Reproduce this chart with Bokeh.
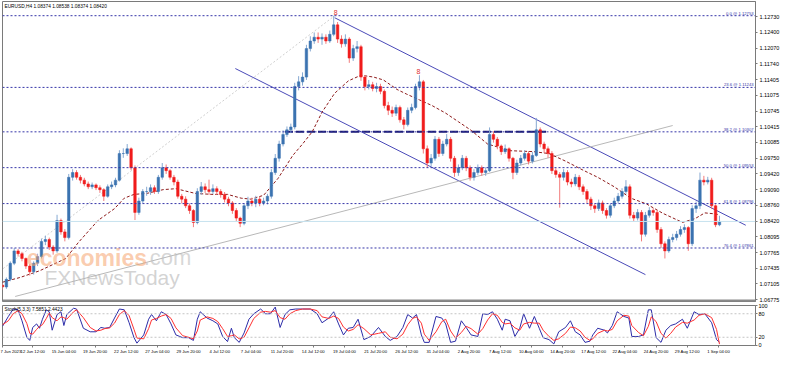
import numpy as np
from bokeh.plotting import figure
from bokeh.layouts import column
from bokeh.models import Range1d, FixedTicker, Span, Label, NumeralTickFormatter
from bokeh.core.properties import value
from bokeh.embed import file_html
from bokeh.resources import INLINE

# ---------------- data (EURUSD H4) ----------------
first_open = 1.0708
close_p = [1.0704,1.0720,1.0754,1.0780,1.0774,1.0764,1.0748,1.0736,1.0754,1.0768,
1.0800,1.0804,1.0788,1.0780,1.0844,1.0820,1.0808,1.0935,1.0945,1.0935,
1.0929,1.0921,1.0915,1.0919,1.0913,1.0909,1.0895,1.0915,1.0919,1.0929,
1.0985,1.0985,1.0995,1.0955,1.0861,1.0885,1.0905,1.0905,1.0913,1.0905,
1.0935,1.0955,1.0949,1.0935,1.0925,1.0895,1.0889,1.0875,1.0865,1.0840,
1.0905,1.0915,1.0909,1.0905,1.0911,1.0905,1.0899,1.0889,1.0881,1.0865,
1.0849,1.0838,1.0875,1.0885,1.0881,1.0889,1.0881,1.0885,1.0895,1.0945,
1.0975,1.1005,1.1025,1.1035,1.1041,1.1126,1.1136,1.1146,1.1206,1.1222,
1.1230,1.1226,1.1230,1.1222,1.1236,1.1256,1.1226,1.1216,1.1226,1.1186,
1.1206,1.1210,1.1146,1.1126,1.1130,1.1122,1.1126,1.1116,1.1086,1.1076,
1.1070,1.1082,1.1056,1.1046,1.1076,1.1082,1.1126,1.1136,1.0995,1.0965,
1.0975,1.1015,1.0985,1.1005,1.1015,1.0975,1.0945,1.0955,1.0975,1.0955,
1.0935,1.0945,1.0955,1.0945,1.0949,1.1025,1.1015,1.1001,1.0989,1.0995,
1.0975,1.0945,1.0965,1.0975,1.0985,1.0969,1.0981,1.1035,1.1005,1.0995,
1.0985,1.0949,1.0941,1.0935,1.0945,1.0925,1.0921,1.0935,1.0915,1.0905,
1.0889,1.0875,1.0869,1.0881,1.0865,1.0855,1.0875,1.0885,1.0895,1.0905,
1.0915,1.0855,1.0849,1.0861,1.0815,1.0855,1.0865,1.0861,1.0825,1.0795,
1.0780,1.0804,1.0808,1.0815,1.0825,1.0829,1.0795,1.0869,1.0875,1.0929,
1.0925,1.0929,1.0875,1.0835,1.0842]
high_p = [1.0712,1.0724,1.0758,1.0786,1.0784,1.0778,1.0766,1.0752,1.0758,1.0774,
1.0806,1.0812,1.0808,1.0792,1.0856,1.0848,1.0826,1.0942,1.0952,1.0950,
1.0940,1.0934,1.0926,1.0924,1.0922,1.0918,1.0912,1.0920,1.0926,1.0934,
1.0992,1.0996,1.1005,1.0998,1.0960,1.0892,1.0910,1.0915,1.0920,1.0918,
1.0940,1.0965,1.0962,1.0952,1.0940,1.0930,1.0900,1.0895,1.0880,1.0868,
1.0912,1.0925,1.0922,1.0930,1.0920,1.0916,1.0910,1.0904,1.0894,1.0885,
1.0870,1.0852,1.0880,1.0894,1.0892,1.0896,1.0894,1.0892,1.0900,1.0952,
1.0984,1.1012,1.1034,1.1042,1.1048,1.1134,1.1148,1.1156,1.1214,1.1232,
1.1240,1.1240,1.1238,1.1236,1.1244,1.1275,1.1262,1.1234,1.1236,1.1230,
1.1214,1.1222,1.1214,1.1150,1.1140,1.1136,1.1134,1.1132,1.1120,1.1094,
1.1084,1.1088,1.1086,1.1062,1.1082,1.1090,1.1132,1.1150,1.1140,1.1002,
1.0984,1.1022,1.1020,1.1012,1.1026,1.1020,1.0980,1.0962,1.0982,1.0980,
1.0960,1.0952,1.0962,1.0960,1.0956,1.1040,1.1032,1.1020,1.1004,1.1004,
1.0998,1.0978,1.0972,1.0982,1.0992,1.0990,1.0988,1.1060,1.1040,1.1010,
1.1000,1.0990,1.0954,1.0946,1.0952,1.0950,1.0932,1.0942,1.0940,1.0920,
1.0910,1.0894,1.0880,1.0888,1.0886,1.0870,1.0880,1.0892,1.0902,1.0912,
1.0929,1.0920,1.0862,1.0868,1.0866,1.0862,1.0872,1.0870,1.0866,1.0830,
1.0800,1.0810,1.0816,1.0822,1.0832,1.0836,1.0832,1.0876,1.0884,1.0945,
1.0938,1.0936,1.0934,1.0878,1.0854]
low_p = [1.0698,1.0700,1.0716,1.0750,1.0768,1.0758,1.0742,1.0728,1.0730,1.0748,
1.0764,1.0792,1.0782,1.0772,1.0776,1.0814,1.0800,1.0804,1.0928,1.0930,
1.0922,1.0916,1.0910,1.0910,1.0908,1.0902,1.0885,1.0892,1.0910,1.0914,
1.0926,1.0976,1.0980,1.0950,1.0845,1.0856,1.0880,1.0896,1.0898,1.0900,
1.0900,1.0930,1.0942,1.0930,1.0918,1.0890,1.0880,1.0870,1.0858,1.0830,
1.0836,1.0898,1.0902,1.0898,1.0900,1.0898,1.0892,1.0882,1.0874,1.0858,
1.0842,1.0830,1.0834,1.0868,1.0874,1.0872,1.0874,1.0876,1.0878,1.0890,
1.0940,1.0968,1.1000,1.1020,1.1028,1.1036,1.1118,1.1128,1.1140,1.1200,
1.1216,1.1218,1.1214,1.1216,1.1218,1.1232,1.1218,1.1208,1.1210,1.1176,
1.1180,1.1198,1.1138,1.1118,1.1120,1.1116,1.1114,1.1110,1.1080,1.1066,
1.1062,1.1064,1.1050,1.1036,1.1042,1.1070,1.1078,1.1118,1.0985,1.0955,
1.0958,1.0970,1.0978,1.0980,1.1000,1.0968,1.0936,1.0938,1.0950,1.0948,
1.0928,1.0928,1.0940,1.0938,1.0938,1.0946,1.1008,1.0994,1.0982,1.0984,
1.0968,1.0931,1.0940,1.0960,1.0970,1.0962,1.0964,1.0978,1.0998,1.0986,
1.0976,1.0942,1.0934,1.0871,1.0928,1.0918,1.0914,1.0916,1.0908,1.0898,
1.0880,1.0866,1.0860,1.0864,1.0858,1.0848,1.0850,1.0870,1.0880,1.0890,
1.0900,1.0848,1.0842,1.0844,1.0800,1.0810,1.0850,1.0854,1.0818,1.0786,
1.0764,1.0776,1.0798,1.0802,1.0810,1.0818,1.0780,1.0790,1.0860,1.0868,
1.0918,1.0920,1.0868,1.0830,1.0832]

# moving average (bar index, price)
ma_bar = [0,9,19,32.5,39,49,57.5,62.5,67.5,74,82.5,89,99,107.5,115.5,122.5,127.5,134,141.5,149,
          154,159,164,170.5,177.5,184,190.5,195.5,202.5,207.5,214,220.5,227.5,234,240.5,249,260.5,
          272.5,280.5,289,297.5,305.5,314,322.5,330.5,339,349,355.5,360.5,365.5,368]
ma_price = [1.0714,1.0724,1.0738,1.0764,1.0798,1.0844,1.0869,1.0891,1.0899,1.0901,1.0909,1.0911,
            1.0901,1.0899,1.0899,1.0891,1.0889,1.0897,1.0933,1.0981,1.1005,1.1031,1.1072,1.1112,
            1.1138,1.1150,1.1146,1.1140,1.1120,1.1110,1.1098,1.1086,1.1070,1.1052,1.1034,1.1005,
            1.0991,1.0989,1.0985,1.0969,1.0951,1.0935,1.0915,1.0891,1.0879,1.0859,1.0840,1.0848,
            1.0860,1.0858,1.0856]

# Fibonacci retracement
fib_pct = ["0.0", "23.6", "38.2", "50.0", "61.8", "76.4"]
fib_price = [1.12753, 1.11243, 1.10307, 1.09553, 1.08796, 1.07861]
fib_base_bar = [-34, 170.5]
fib_base_price = [1.06353, 1.12753]
fib_mark_bar = [145, 279]          # thick dashed segment on 38.2
fib_mark_price = [1.10307, 1.10307]

# channel and trend lines
chan_up_bar = [170.5, 381.5];  chan_up_price = [1.1271, 1.0834]
chan_lo_bar = [119.5, 330];    chan_lo_price = [1.1164, 1.0730]
trend_bar = [6.5, 344];        trend_price = [1.0684, 1.1044]

marker_bar = [171, 213.5]
marker_price = [1.1277, 1.1153]

last_price = 1.08420
header = "EURUSD,H4  1.08374 1.08538 1.08374 1.08420"

price_ticks = [1.12730, 1.12400, 1.12070, 1.11740, 1.11405, 1.11075, 1.10745, 1.10415,
               1.10085, 1.09750, 1.09420, 1.09090, 1.08760, 1.08420, 1.08095, 1.07765,
               1.07435, 1.07105, 1.06775]

time_labels = ["7 Jun 2023", "12 Jun 12:00", "15 Jun 04:00", "19 Jun 20:00", "22 Jun 12:00",
               "27 Jun 04:00", "29 Jun 20:00", "4 Jul 12:00", "7 Jul 04:00", "11 Jul 20:00",
               "14 Jul 12:00", "19 Jul 04:00", "21 Jul 20:00", "26 Jul 12:00", "31 Jul 04:00",
               "2 Aug 20:00", "7 Aug 12:00", "10 Aug 04:00", "14 Aug 20:00", "17 Aug 12:00",
               "22 Aug 04:00", "24 Aug 20:00", "29 Aug 12:00", "1 Sep 04:00"]

# stochastic (5,3,3)
stoch_bar = [0,3,5.5,8,10,12.5,14,15.5,17.5,19,20.5,22.5,24,25.5,28,30,31.5,33,36.5,38,
             41.5,45,48,50.5,52.5,55,57.5,60,62.5,65,67.5,69,72.5,75,76.5,79,81.5,84,86.5,89,
             92.5,95.5,98,100,101.5,105,108,110.5,113,115.5,117.5,119,121.5,124,126.5,129,132.5,135,137.5,140,
             142.5,145,147.5,150.5,154,158,161.5,164,167.5,170,172.5,175,177.5,180,182.5,185.5,189,193,196.5,199,
             202.5,205.5,208,210.5,212.5,215,216.5,219,222.5,225.5,227.5,230,232.5,235.5,238,240.5,244,246.5,249,251.5,
             254,256.5,258,260.5,263,265.5,267.5,270.5,273,275.5,277.5,280.5,283,285.5,289,291.5,294,296.5,299,301.5,
             303,305.5,309,310.5,313,315.5,319,321.5,323,326.5,329,331.5,333,335.5,338,340.5,343,345.5,349,351.5,
             355,357.5,360.5,364,366.5,368]
stoch_main = [48,73,92,90,62,20,12,45,54,43,66,90,85,38,78,85,50,78,94,92,
              43,34,34,45,43,45,69,92,90,57,19,5,26,66,78,62,85,78,54,26,
              19,19,12,66,85,69,62,54,22,9,43,19,7,31,66,80,92,80,80,97,
              45,78,90,92,92,92,80,57,69,85,54,26,43,45,66,14,22,45,22,12,
              22,45,78,69,78,26,7,7,73,69,54,7,10,62,45,26,22,80,78,85,
              66,38,66,62,22,43,80,43,73,43,19,14,3,34,45,62,34,26,7,10,
              26,43,38,31,50,85,73,69,22,22,26,90,90,19,7,38,50,54,66,43,
              85,78,80,57,14,7.5851]
stoch_signal = [52,62,80,88,80,55,30,28,40,48,52,68,82,70,62,72,70,66,85,90,
                70,45,36,38,42,44,56,78,88,75,40,18,16,42,64,68,74,78,68,44,
                24,20,16,36,64,72,68,60,42,22,24,26,16,20,44,68,84,86,84,88,
                70,66,80,88,92,92,88,72,68,74,68,46,36,40,52,42,26,30,34,20,
                16,28,52,68,72,56,28,12,34,60,66,36,18,32,48,42,28,42,64,80,
                76,58,54,56,44,38,54,58,56,56,38,22,12,16,30,46,44,36,20,12,
                16,30,38,36,40,62,76,74,50,32,24,48,72,60,30,18,30,46,58,56,
                64,76,80,70,40,2.4423]
stoch_levels = [20, 80]
stoch_ticks = [0, 20, 80, 100]
stoch_title = "Stoch(5,3,3) 7.5851 2.4423"

# ---------------- styling ----------------
FONT = "Liberation Sans"
FS_AX = "5.5px"
FS_X = "4.2px"
FS_FIB = "4.2px"
FS_HDR = "4.8px"
FRAME = "#7a7a7a"
NAVY = "#3535a8"
UP_BODY, UP_WICK = "#3b73b0", "#86a9d2"
DN_BODY, DN_WICK = "#f01c1c", "#f27c7c"

n = len(close_p)
bar = np.arange(n) * 2.0
o = np.array([first_open] + close_p[:-1])
c = np.array(close_p)
h = np.array(high_p)
l = np.array(low_p)
up = c >= o

xr = Range1d(0, 386.5)

p = figure(width=782, height=303, x_range=xr, y_range=Range1d(1.06734, 1.13052),
           x_axis_location=None, y_axis_location="right", output_backend="svg",
           toolbar_location=None, min_border_left=2, min_border_right=26,
           min_border_top=1, min_border_bottom=2)
p.grid.visible = False
p.outline_line_color = FRAME
p.background_fill_color = "white"
p.border_fill_color = "white"

ay = p.yaxis[0]
ay.ticker = FixedTicker(ticks=price_ticks)
ay.formatter = NumeralTickFormatter(format="0.00000")
ay.major_label_text_font_size = FS_AX
ay.major_label_text_font = FONT
ay.major_label_text_color = "#000000"
ay.major_tick_out = 2
ay.major_tick_in = 0
ay.minor_tick_out = 0
ay.minor_tick_in = 0
ay.axis_line_color = FRAME
ay.major_tick_line_color = FRAME
ay.major_label_standoff = 2

# current price line
p.add_layout(Span(location=last_price, dimension="width", line_color="#c6e2ee", line_width=1))

# fib levels
for lvl in fib_price:
    p.add_layout(Span(location=lvl, dimension="width", line_color=NAVY, line_width=1, line_dash="2 2"))
p.text(x=[xr.end - 1] * len(fib_price), y=fib_price,
       text=[f"{a} @ {b:.5f}" for a, b in zip(fib_pct, fib_price)],
       text_align="right", text_baseline="bottom", text_font=value(FONT),
       text_font_size=FS_FIB, text_color=NAVY)
p.line(fib_base_bar, fib_base_price, line_color="#cfcfcf", line_width=1, line_dash="2 2")
p.line(fib_mark_bar, fib_mark_price, line_color="#1c1c70", line_width=2, line_dash="8 3")

# channel & trend
p.line(chan_up_bar, chan_up_price, line_color="#4a4ab8", line_width=1)
p.line(chan_lo_bar, chan_lo_price, line_color="#4a4ab8", line_width=1)
p.line(trend_bar, trend_price, line_color="#b8b8b8", line_width=1)

# watermark
p.add_layout(Label(x=12.5, y=1.0766, text="economies", text_font=FONT, text_font_size="23px",
                   text_font_style="bold", text_color="#f6a26b", text_alpha=0.55,
                   text_baseline="alphabetic"))
p.add_layout(Label(x=72.5, y=1.0766, text=".com", text_font=FONT, text_font_size="22px",
                   text_color="#bdbdbd", text_alpha=0.6, text_baseline="alphabetic"))
p.add_layout(Label(x=21.5, y=1.0724, text="FXNewsToday", text_font=FONT, text_font_size="21px",
                   text_color="#b5b5b5", text_alpha=0.6, text_baseline="alphabetic"))

# MA
p.line(ma_bar, ma_price, line_color="#8e1c1c", line_width=1, line_dash="3 2")

# candles
p.segment(x0=bar, y0=l, x1=bar, y1=h, line_color=np.where(up, UP_WICK, DN_WICK).tolist(), line_width=1)
p.vbar(x=bar, width=1.3, top=np.maximum(o, c), bottom=np.minimum(o, c),
       fill_color=np.where(up, UP_BODY, DN_BODY).tolist(),
       line_color=np.where(up, UP_BODY, DN_BODY).tolist(), line_width=0.5)

# fractal markers
p.text(x=marker_bar, y=marker_price, text=["8", "8"], text_align="center", text_baseline="bottom",
       text_font=value(FONT), text_font_size="7px", text_color="#e03030")

# header
p.add_layout(Label(x=1, y=p.y_range.end, y_offset=-2, text=header, text_font=FONT,
                   text_font_size=FS_HDR, text_color="#000000", text_baseline="top"))
# panel separator
p.add_layout(Span(location=p.y_range.start, dimension="width", line_color="#8a8a8a", line_width=4))

# ---------------- stochastic panel ----------------
p2 = figure(width=782, height=53, x_range=xr, y_range=Range1d(-1, 101),
            y_axis_location="right", output_backend="svg", toolbar_location=None,
            min_border_left=2, min_border_right=26, min_border_top=2, min_border_bottom=0)
p2.grid.visible = False
p2.outline_line_color = FRAME
for lv in stoch_levels:
    p2.add_layout(Span(location=lv, dimension="width", line_color="#c4c4c4", line_width=1, line_dash="2 2"))
p2.line(stoch_bar, stoch_main, line_color="#2c2ca8", line_width=1)
p2.line(stoch_bar, stoch_signal, line_color="#ff3030", line_width=1)
p2.add_layout(Label(x=1, y=101, y_offset=-1, text=stoch_title, text_font=FONT,
                    text_font_size=FS_HDR, text_color="#000000", text_baseline="top"))

a2 = p2.yaxis[0]
a2.ticker = FixedTicker(ticks=stoch_ticks)
a2.major_label_text_font_size = FS_AX
ax2 = p2.xaxis[0]
time_ticks = [0.0] + [15.5 + 16 * i for i in range(len(time_labels) - 1)]
ax2.ticker = FixedTicker(ticks=time_ticks)
ax2.major_label_overrides = {t: s for t, s in zip(time_ticks, time_labels)}
ax2.major_label_text_align = "left"
ax2.major_label_text_font_size = FS_X
for a in (a2, ax2):
    a.major_label_text_font = FONT
    a.major_label_text_color = "#000000"
    a.major_tick_out = 2
    a.major_tick_in = 0
    a.minor_tick_out = 0
    a.minor_tick_in = 0
    a.axis_line_color = FRAME
    a.major_tick_line_color = FRAME
    a.major_label_standoff = 1

layout = column(p, p2, spacing=0)
open("out.html", "w").write(file_html(layout, INLINE))
